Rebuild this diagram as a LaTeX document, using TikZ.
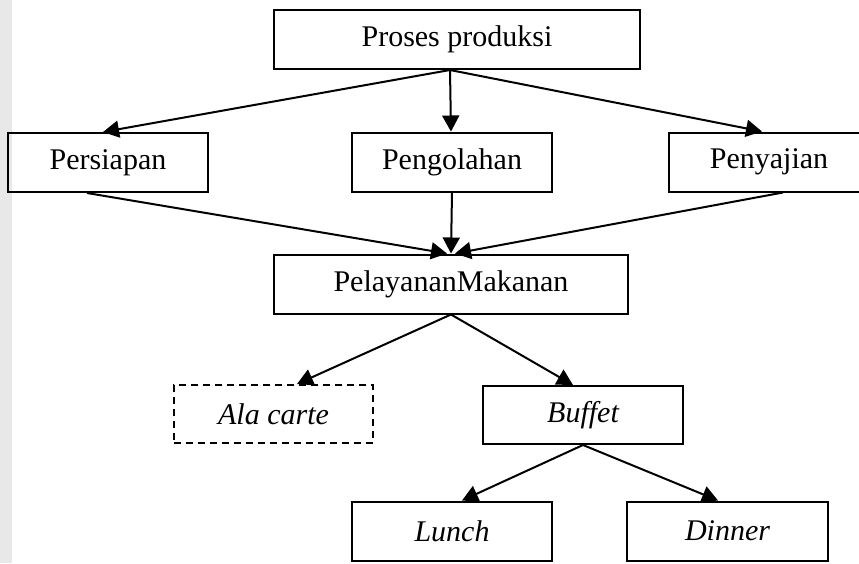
\documentclass[tikz,border=0pt]{standalone}
\usepackage{fontspec}
\setmainfont{Liberation Serif}
\usetikzlibrary{arrows.meta}
\begin{document}
\begin{tikzpicture}[x=1pt,y=-1pt,
  box/.style={draw, line width=2pt, rectangle, minimum height=59pt, inner sep=0pt,
    font=\fontsize{30}{35}\selectfont},
  dashbox/.style={box, dash pattern=on 7pt off 5pt},
  arr/.style={line width=2pt, -{Triangle[length=16pt,width=17pt]}}]
\clip (0,0) rectangle (859,563);
\fill[white] (0,0) rectangle (859,563);
\fill[gray!18] (0,0) rectangle (12,563);
\node[box, minimum width=366pt] (proses) at (457,39.5) {Proses produksi};
\node[box, minimum width=200pt] (persiapan) at (108,162.5) {Persiapan};
\node[box, minimum width=200pt] (pengolahan) at (452,162) {Pengolahan};
\node[box, minimum width=200pt] (penyajian) at (769,162) {Penyajian};
\node[box, minimum width=354pt] (pm) at (451,284) {PelayananMakanan};
\node[dashbox, minimum width=199pt, minimum height=58pt] (ala) at (273.5,414) {\itshape Ala carte};
\node[box, minimum width=200pt, minimum height=58pt] (buffet) at (583,415) {\itshape Buffet};
\node[box, minimum width=200pt] (lunch) at (452,531) {\itshape Lunch};
\node[box, minimum width=201pt] (dinner) at (727.5,531) {\itshape Dinner};
% top level
\draw[arr] (proses.south -| 450,0) -- (persiapan.north -| 103,0);
\draw[arr] (proses.south -| 450,0) -- (pengolahan.north -| 451,0);
\draw[arr] (proses.south -| 450,0) -- (penyajian.north -| 762,0);
% into PelayananMakanan
\draw[arr] (persiapan.south -| 87,0) -- (pm.north -| 447,0);
\draw[arr] (pengolahan.south -| 452,0) -- (pm.north -| 451,0);
\draw[arr] (penyajian.south -| 783,0) -- (pm.north -| 455,0);
% service types
\draw[arr] (pm.south -| 451,0) -- (ala.north -| 297,0);
\draw[arr] (pm.south -| 451,0) -- (buffet.north -| 573,0);
% buffet
\draw[arr] (buffet.south -| 583,0) -- (lunch.north -| 462,0);
\draw[arr] (buffet.south -| 583,0) -- (dinner.north -| 718,0);
\end{tikzpicture}
\end{document}
